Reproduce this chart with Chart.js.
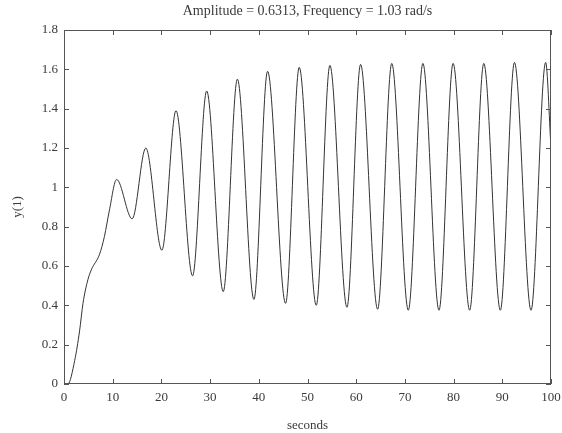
<!DOCTYPE html>
<html>
<head>
<meta charset="utf-8">
<script src="https://cdn.jsdelivr.net/npm/chart.js@4"></script>
<style>
  html, body { margin: 0; padding: 0; background: #fff; }
  #wrap { width: 562px; height: 433px; }
</style>
</head>
<body>
<div id="wrap"><canvas id="chart" width="562" height="433"></canvas></div>
<script>
// values (start-up, then peaks and troughs)
const timeSec = [
  0, 0.8, 2.2, 3.2, 3.9, 4.9, 5.6, 7.3, 8.3, 9.3,
  10.8, 14.0, 16.8, 20.1, 23.0, 26.4, 29.3, 32.7, 35.6, 39.0,
  41.8, 45.5, 48.3, 51.8, 54.6, 58.1, 60.9, 64.4, 67.3, 70.7,
  73.7, 77.0, 79.9, 83.3, 86.2, 89.6, 92.5, 95.9, 98.9, 100
];
const y1 = [
  0, 0.0, 0.12, 0.27, 0.41, 0.53, 0.58, 0.66, 0.75, 0.88,
  1.04, 0.84, 1.20, 0.68, 1.39, 0.55, 1.49, 0.47, 1.55, 0.43,
  1.59, 0.41, 1.61, 0.40, 1.62, 0.39, 1.625, 0.38, 1.63, 0.375,
  1.63, 0.375, 1.63, 0.375, 1.63, 0.375, 1.635, 0.375, 1.635, 1.2
];
const xTicks = [0, 10, 20, 30, 40, 50, 60, 70, 80, 90, 100];
const yTicks = [0, 0.2, 0.4, 0.6, 0.8, 1, 1.2, 1.4, 1.6, 1.8];

const ink = '#3a3a3a';
const serif = '"Liberation Serif", "Times New Roman", serif';

// matlab style box with inward ticks on all four sides
const boxTicks = {
  id: 'boxTicks',
  afterDraw(chart) {
    const { ctx, chartArea: a, scales } = chart;
    const len = 5;
    ctx.save();
    ctx.strokeStyle = '#555';
    ctx.lineWidth = 1;
    ctx.strokeRect(a.left + 0.5, a.top + 0.5, a.right - a.left - 1, a.bottom - a.top - 1);
    ctx.beginPath();
    xTicks.forEach((v) => {
      const px = Math.round(scales.x.getPixelForValue(v)) + 0.5;
      ctx.moveTo(px, a.bottom); ctx.lineTo(px, a.bottom - len);
      ctx.moveTo(px, a.top); ctx.lineTo(px, a.top + len);
    });
    yTicks.forEach((v) => {
      const py = Math.round(scales.y.getPixelForValue(v)) + 0.5;
      ctx.moveTo(a.left, py); ctx.lineTo(a.left + len, py);
      ctx.moveTo(a.right, py); ctx.lineTo(a.right - len, py);
    });
    ctx.stroke();
    ctx.restore();
  }
};

new Chart(document.getElementById('chart'), {
  type: 'line',
  data: {
    datasets: [{
      data: timeSec.map((t, i) => ({ x: t, y: y1[i] })),
      borderColor: '#333',
      borderWidth: 1,
      pointRadius: 0,
      cubicInterpolationMode: 'monotone',
      fill: false
    }]
  },
  options: {
    responsive: false,
    animation: false,
    layout: { padding: { left: 0, right: 11, top: 0, bottom: 0 } },
    plugins: {
      legend: { display: false },
      tooltip: { enabled: false },
      title: {
        display: true,
        fullSize: false,
        text: 'Amplitude = 0.6313, Frequency = 1.03 rad/s',
        color: ink,
        font: { family: serif, size: 14, weight: 'normal' },
        padding: { top: 3, bottom: 10.2 }
      }
    },
    scales: {
      x: {
        type: 'linear',
        min: 0,
        max: 100,
        afterBuildTicks: (s) => { s.ticks = xTicks.map((v) => ({ value: v })); },
        afterFit: (s) => {
          s.height = 49;
          s.paddingLeft = 0;
          s.paddingRight = 0;
        },
        grid: { display: false, drawTicks: false },
        border: { display: false },
        ticks: { color: ink, font: { family: serif, size: 13 }, padding: 6, maxRotation: 0 },
        title: {
          display: true,
          text: 'seconds',
          color: ink,
          font: { family: serif, size: 13 },
          padding: { top: 10, bottom: 0 }
        }
      },
      y: {
        min: 0,
        max: 1.8,
        afterBuildTicks: (s) => { s.ticks = yTicks.map((v) => ({ value: v })); },
        afterFit: (s) => { s.width = 64; },
        grid: { display: false, drawTicks: false },
        border: { display: false },
        ticks: {
          color: ink,
          font: { family: serif, size: 13 },
          padding: 6,
          callback: (v) => String(Math.round(v * 10) / 10)
        },
        title: {
          display: true,
          text: 'y(1)',
          color: ink,
          font: { family: serif, size: 13 },
          padding: { top: 10, bottom: 0 }
        }
      }
    }
  },
  plugins: [boxTicks]
});
</script>
</body>
</html>
